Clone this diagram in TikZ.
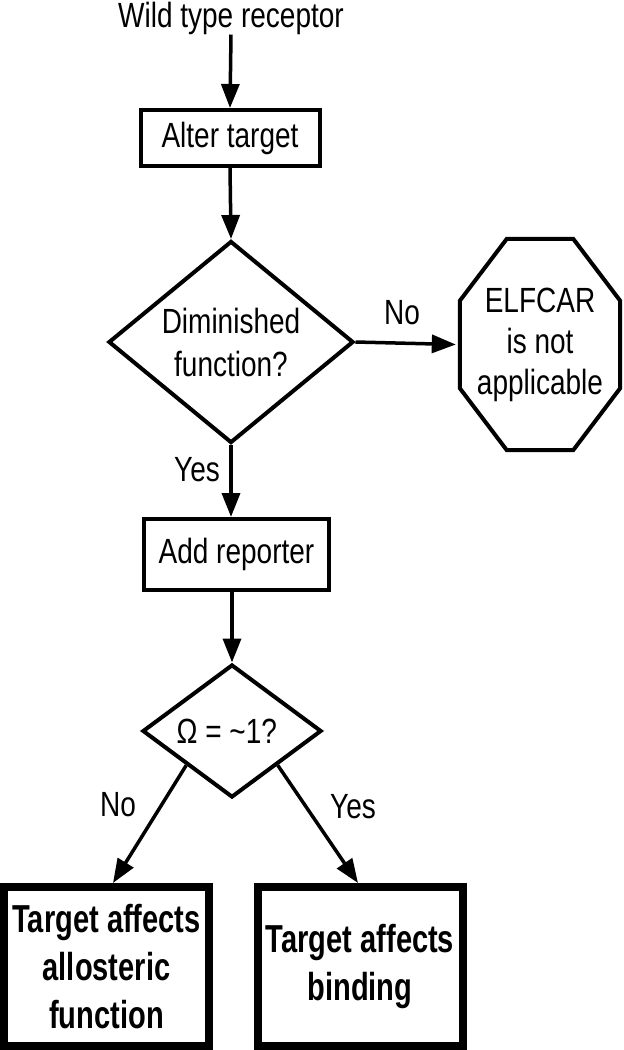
\documentclass[tikz,border=0pt]{standalone}
\usepackage{fontspec}
\setmainfont[FakeStretch=0.80]{Liberation Sans}
\newfontfamily\heavyfont[FakeStretch=0.745]{Liberation Sans}
\usetikzlibrary{shapes.geometric,arrows.meta}

\begin{document}
\begin{tikzpicture}[
    x=1pt,y=-1pt,
    txt/.style={inner sep=0pt, align=center, font=\fontsize{35}{43}\selectfont},
    stepbox/.style={txt, draw=black, line width=4pt,
      minimum width=179pt, minimum height=56pt},
    query/.style={txt, draw=black, line width=4pt, diamond, aspect=1.22},
    result/.style={draw=black, line width=8pt, inner sep=0pt,
      minimum width=205pt, minimum height=159pt, align=center,
      font=\heavyfont\bfseries\fontsize{39}{48}\selectfont},
    link/.style={-{Triangle[length=24pt,width=18pt]}, line width=3.5pt}
  ]
    \useasboundingbox (0,0) rectangle (624,1050);

    \node[txt] (wild) at (231,18) {Wild type receptor};

    \node[stepbox] (alter) at (230,138) {Alter target};

    \node[query, minimum width=245pt, minimum height=202pt] (dimin) at (231,342) {
      Diminished\\function?
    };

    \node[txt, font=\fontsize{35}{41}\selectfont,
      minimum width=160pt, minimum height=211pt] (notapp) at (540,344.5) {
      ELFCAR\\is not\\applicable
    };
    \draw[line width=4pt]
      ([xshift=47pt]notapp.north west) -- ([xshift=-47pt]notapp.north east)
      -- ([yshift=-62pt]notapp.north east) -- ([yshift=62pt]notapp.south east)
      -- ([xshift=-47pt]notapp.south east) -- ([xshift=47pt]notapp.south west)
      -- ([yshift=62pt]notapp.south west) -- ([yshift=-62pt]notapp.north west)
      -- cycle;

    \node[stepbox, minimum width=185pt, minimum height=71pt] (report) at (236.5,554.5) {Add reporter};

    \node[query, minimum width=179pt, minimum height=133pt, aspect=1.4] (omega) at (232,731) {
      Ω = \textasciitilde1?
    };

    \node[result] (allo) at (106.5,966.5) {
      Target affects\\allosteric\\function
    };

    \node[result] (bind) at (360,966.5) {
      Target affects\\binding
    };

    \node[txt] (yesdim) at (197,470) {Yes};
    \node[txt] (nodim) at (402,313) {No};
    \node[txt] (noomega) at (118,805) {No};
    \node[txt] (yesomega) at (353,807) {Yes};

    \draw[link] (wild.south) -- (alter.north);
    \draw[link] (alter.south) -- (dimin.north);
    \draw[link] (dimin.east) -- ([xshift=-4pt]notapp.west);
    \draw[link] (dimin.south) -- (dimin.south |- report.north);
    \draw[link] (report.south -| omega.north) -- (omega.north);
    \draw[link] (omega.south west) -- ([xshift=6.5pt]allo.north);
    \draw[link] (omega.south east) -- ([xshift=-2pt]bind.north);
  \end{tikzpicture}
\end{document}
